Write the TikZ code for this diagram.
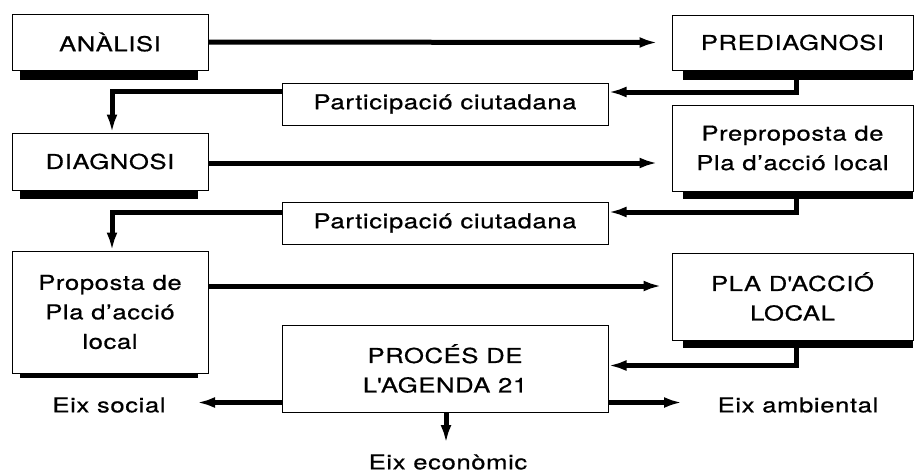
\documentclass[tikz,border=0pt]{standalone}
\usepackage{fontspec}
\setmainfont{TeX Gyre Heros}[FakeStretch=1.25, LetterSpace=3, FakeBold=0.6]
\usetikzlibrary{arrows.meta}
\tikzset{
  box/.style={draw, line width=1pt, fill=white, inner sep=0pt, align=center,
    font=\fontsize{20.5}{29.5}\selectfont},
  shade/.style={fill=black},
  arr/.style={line width=5pt, -{Latex[length=18pt,width=11pt]}},
  lbl/.style={font=\fontsize{20.5}{29.5}\selectfont, inner sep=0pt}
}
\begin{document}
\begin{tikzpicture}[x=1pt,y=-1pt]
\useasboundingbox[fill=white] (0,0) rectangle (915,474);
% shadows
\fill[shade] (20,69) rectangle (198,80);
\fill[shade] (683,69) rectangle (913,80);
\fill[shade] (20,189) rectangle (198,199);
\fill[shade] (683,190) rectangle (913,199);
\fill[shade] (20,372) rectangle (198,378);
\fill[shade] (683,339) rectangle (913,348);
% boxes
\node[box, minimum width=196, minimum height=56] (ana) at (110,42) {ANÀLISI};
\node[box, minimum width=241, minimum height=55] (pre) at (792.5,42.5) {PREDIAGNOSI};
\node[box, minimum width=326, minimum height=42] (par1) at (445,104) {Participació ciutadana};
\node[box, minimum width=196, minimum height=57] (dia) at (110,161.5) {DIAGNOSI};
\node[box, minimum width=241, minimum height=86] (prep) at (792.5,148) {Preproposta de\\Pla d’acció local};
\node[box, minimum width=326, minimum height=42] (par2) at (445,223) {Participació ciutadana};
\node[box, minimum width=196, minimum height=122] (prop) at (110,312) {Proposta de\\Pla d’acció\\local};
\node[box, minimum width=241, minimum height=87] (pla) at (792.5,296.5) {PLA D\textquotesingle ACCIÓ\\LOCAL};
\node[box, minimum width=326, minimum height=87] (proc) at (445,368.5) {PROCÉS DE\\L\textquotesingle AGENDA 21};
% labels
\node[lbl] (soc) at (109,405) {Eix social};
\node[lbl] (amb) at (798,405) {Eix ambiental};
\node[lbl] (eco) at (448,462) {Eix econòmic};
% connector end points
\coordinate (s1) at (796,80);
\coordinate (s2) at (796,199);
\coordinate (s3) at (796,348);
% connectors
\draw[arr] (ana.east) -- ([xshift=-14pt]pre.west);
\draw[arr] (dia.east |- 0,163) -- ([xshift=-14pt]prep.west |- 0,163);
\draw[arr] (prop.east |- 0,286) -- ([xshift=-10pt]pla.west |- 0,286);
\draw[arr] (s1) |- ([yshift=12pt]par1.east);
\draw[arr] ([yshift=13pt]par1.west) -| ([xshift=2pt]dia.north);
\draw[arr] (s2) |- ([yshift=11pt]par2.east);
\draw[arr] ([yshift=11pt]par2.west) -| ([xshift=2pt]prop.north);
\draw[arr] (s3) |- ([yshift=3pt]proc.east);
\draw[arr] ([yshift=-34pt]proc.west) -- (197,402.5);
\draw[arr] ([yshift=-34pt]proc.east) -- (682,402.5);
\draw[arr] (proc.south -| 446,0) -- (446,443);
\end{tikzpicture}
\end{document}
